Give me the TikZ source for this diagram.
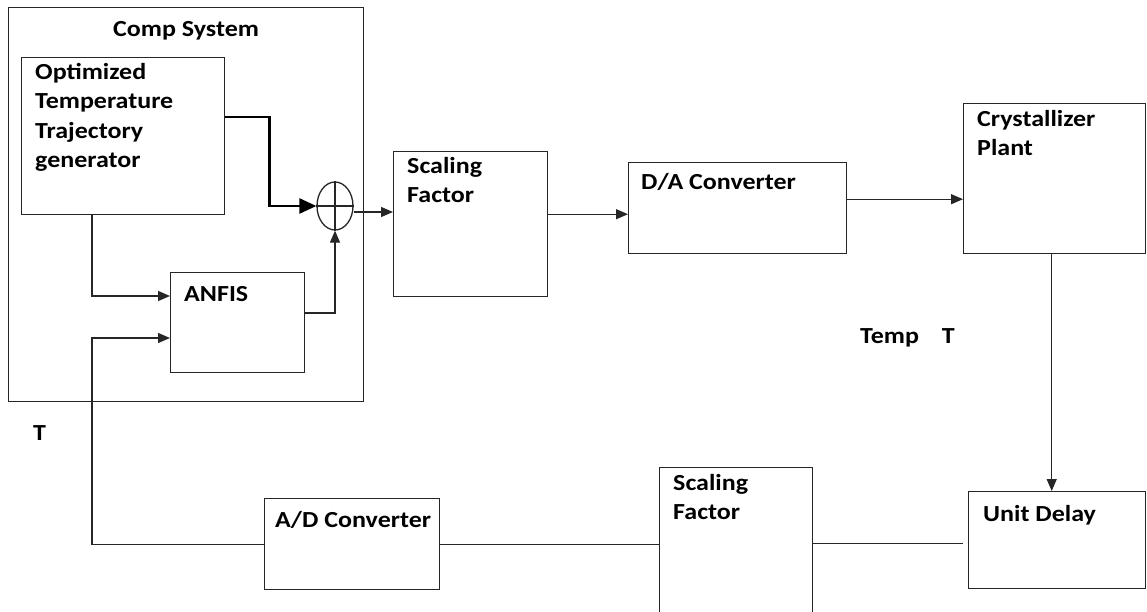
\documentclass[tikz,border=0pt]{standalone}
\usepackage{fontspec}
\setmainfont{Carlito}[FakeStretch=1.13]
\usetikzlibrary{shapes.geometric,arrows.meta}
\begin{document}
\begin{tikzpicture}[x=1pt,y=-1pt,
  blk/.style={draw=black!85,line width=1.4pt,anchor=north west,inner sep=0pt},
  lbl/.style={anchor=base west,inner sep=0pt,font=\fontsize{23}{29.5}\selectfont\bfseries,align=left},
  wire/.style={draw=black!85,line width=1.3pt},
  arr/.style={wire,-{Triangle[length=12pt,width=10pt]}},
  thk/.style={draw=black,line width=2.6pt,-{Triangle[length=17pt,width=15pt]}}]
\useasboundingbox (0,0) rectangle (1147,612);
\clip (0,0) rectangle (1147,612);

% blocks
\node[blk,minimum width=355pt,minimum height=394pt] (comp) at (8,7) {};
\node[blk,minimum width=203pt,minimum height=157pt] (opt) at (21,57) {};
\node[blk,minimum width=134pt,minimum height=100pt] (anfis) at (170,272) {};
\node[draw=black!85,line width=1.3pt,ellipse,minimum width=36pt,minimum height=48pt,inner sep=0pt] (sum) at (335,206) {};
\node[blk,minimum width=154pt,minimum height=145pt] (sf1) at (393,151) {};
\node[blk,minimum width=218pt,minimum height=91pt] (da) at (628,162) {};
\node[blk,minimum width=182pt,minimum height=150pt] (cryst) at (963,103) {};
\node[blk,minimum width=177pt,minimum height=97pt] (ud) at (968,491) {};
\node[blk,minimum width=153pt,minimum height=170pt] (sf2) at (659,467) {};
\node[blk,minimum width=175pt,minimum height=91pt] (ad) at (264,498) {};

% cross inside the summing junction
\draw[wire] (sum.north) -- (sum.south);
\draw[wire] (sum.west) -- (sum.east);

% texts
\node[lbl] (tcomp) at (113,37) {Comp System};
\node[lbl,anchor=north west] (topt) at (35,63) {Optimized\\Temperature\\Trajectory\\generator};
\node[lbl] (tanfis) at (184,301) {ANFIS};
\node[lbl,anchor=north west] (tsf1) at (407,157) {Scaling\\Factor};
\node[lbl] (tda) at (641,190) {D/A Converter};
\node[lbl,anchor=north west] (tcryst) at (977,110) {Crystallizer\\Plant};
\node[lbl] (ttemp) at (860,343) {Temp\quad T};
\node[lbl] (tt) at (33,440) {T};
\node[lbl] (tud) at (983,521) {Unit Delay};
\node[lbl,anchor=north west] (tsf2) at (673,474) {Scaling\\Factor};
\node[lbl] (tad) at (275,527) {A/D Converter};

% connectors
\draw[thk] ([yshift=-60pt]opt.north east) -| ([xshift=-47pt]sum.west) -- (sum.west);
\draw[arr] ([xshift=71pt]opt.south west) |- ([yshift=-24pt]anfis.north west);
\draw[arr] ([yshift=-41pt]anfis.north east) -| (sum.south);
\draw[arr] (ad.west) -| ([xshift=-78pt,yshift=-66pt]anfis.north west) -- ([yshift=-66pt]anfis.north west);
\draw[arr] ([yshift=-6pt]sum.east) -- ([yshift=-6pt]sum.east -| sf1.west);
\draw[arr] ([yshift=10pt]sf1.east) -- ([yshift=10pt]sf1.east -| da.west);
\draw[arr] ([yshift=9pt]da.east) -- ([yshift=9pt]da.east -| cryst.west);
\draw[arr] ([xshift=-3pt]cryst.south) -- ([xshift=-3pt]cryst.south |- ud.north);
\draw[wire] ([xshift=-5pt,yshift=-3.5pt]ud.west) -- ([yshift=-3.5pt]ud.west -| sf2.east);
\draw[wire] (ad.east) -- (ad.east -| sf2.west);
\end{tikzpicture}
\end{document}
